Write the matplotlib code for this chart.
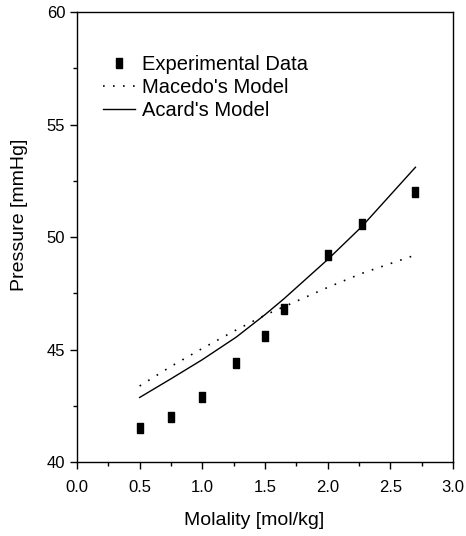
import matplotlib.pyplot as plt
import numpy as np

# dane
molality = [0.5, 0.75, 1.0, 1.27, 1.5, 1.65, 2.0, 2.27, 2.7]
pressure_exp = [41.5, 42.0, 42.9, 44.4, 45.6, 46.8, 49.2, 50.6, 52.0]
pressure_macedo = [43.38, 44.25, 45.05, 45.87, 46.53, 46.9, 47.76, 48.38, 49.2]
pressure_acard = [42.87, 43.7, 44.55, 45.55, 46.55, 47.25, 49.0, 50.45, 53.1]

xticks = [0.0, 0.5, 1.0, 1.5, 2.0, 2.5, 3.0]
yticks = [40, 45, 50, 55, 60]


def main():
    plt.rcParams['font.family'] = ['Liberation Sans', 'DejaVu Sans']

    fig = plt.figure(figsize=(4.66, 5.36), dpi=100)
    ax = fig.add_axes([0.1652, 0.138, 0.807, 0.8396])

    # prostokatny znacznik (wyzszy niz szerszy)
    rect = [(-0.65, -1), (0.65, -1), (0.65, 1), (-0.65, 1), (-0.65, -1)]
    ax.plot(molality, pressure_exp, linestyle='none', marker=rect,
            markersize=7.2, color='black', label='Experimental Data')
    ax.plot(molality, pressure_macedo, color='black', lw=1.2,
            linestyle=(0, (1, 5)), label="Macedo's Model")
    ax.plot(molality, pressure_acard, color='black', lw=1.0,
            linestyle='-', label="Acard's Model")

    ax.set_xlim(0, 3.0)
    ax.set_ylim(40, 60)
    ax.set_xticks(xticks)
    ax.set_xticklabels([f'{v:.1f}' for v in xticks])
    ax.set_yticks(yticks)
    ax.set_xticks(np.arange(0.25, 3.0, 0.5), minor=True)
    ax.set_yticks(np.arange(42.5, 60, 5), minor=True)
    ax.tick_params(which='major', direction='out', length=5, width=1,
                   labelsize=12)
    ax.tick_params(axis='x', which='major', pad=8)
    ax.tick_params(which='minor', direction='out', length=3, width=1)

    for s in ax.spines.values():
        s.set_linewidth(1.0)

    ax.set_xlabel('Molality [mol/kg]', fontsize=14)
    ax.set_ylabel('Pressure [mmHg]', fontsize=14)
    ax.yaxis.set_label_coords(-0.13, 0.55)
    ax.xaxis.set_label_coords(0.47, -0.11)

    ax.legend(loc='upper left', bbox_to_anchor=(0.02, 0.945),
              frameon=False, fontsize=14.5, handlelength=1.6,
              handletextpad=0.35, labelspacing=0.2)

    fig.savefig('out.png', dpi=100)


if __name__ == '__main__':
    main()
